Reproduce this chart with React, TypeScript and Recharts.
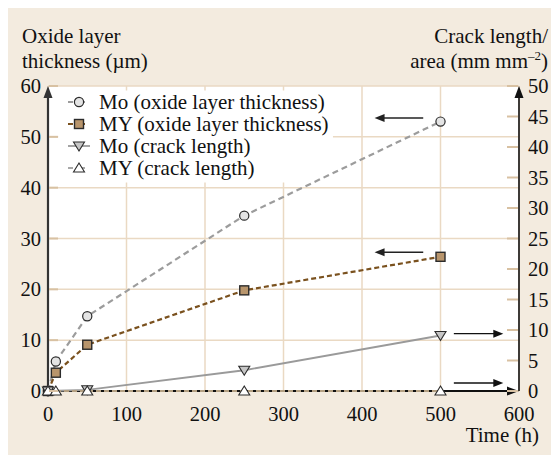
import {
  CartesianGrid,
  Legend,
  Line,
  LineChart,
  ReferenceArea,
  ReferenceLine,
  XAxis,
  YAxis,
} from "recharts";

// exposure time (h)
const times = [0, 10, 50, 250, 500];
// oxide layer thickness (µm), left axis
const moOxide = [0, 5.8, 14.7, 34.5, 53.0];
const myOxide = [0, 3.6, 9.1, 19.8, 26.4];
// crack length per area (mm mm^-2), right axis
const moCrack = [0, null, 0.2, 3.4, 9.1];
const myCrack = [0, 0, 0, 0, 0];

const timeTicks = [0, 100, 200, 300, 400, 500, 600];
const leftTicks = [0, 10, 20, 30, 40, 50, 60];
const rightTicks = [0, 5, 10, 15, 20, 25, 30, 35, 40, 45, 50];

// arrows telling which axis each curve belongs to
const leftArrows = [53.7, 27.3];
const rightArrows = [9.4, 1.3];

const rows = times.map((t, i) => ({
  time: t,
  moOxide: moOxide[i],
  myOxide: myOxide[i],
  moCrack: moCrack[i],
  myCrack: myCrack[i],
}));

const FONT = "Liberation Serif";
const GRID = "#ead9c3";
const TICK = "#d8c1a2";

type Marker = "circle" | "square" | "down" | "up";

const series: {
  key: string;
  name: string;
  axis: string;
  stroke: string;
  legendStroke: string;
  width: number;
  dash?: string;
  marker: Marker;
  fill: string;
}[] = [
  { key: "moOxide", name: "Mo (oxide layer thickness)", axis: "left", stroke: "#9c9c9c", legendStroke: "#9c9c9c", width: 2.2, dash: "6 4", marker: "circle", fill: "#e4e4e4" },
  { key: "myOxide", name: "MY (oxide layer thickness)", axis: "left", stroke: "#7a511e", legendStroke: "#7a511e", width: 2.2, dash: "5 3", marker: "square", fill: "#b8956c" },
  { key: "moCrack", name: "Mo (crack length)", axis: "right", stroke: "#9a9a9a", legendStroke: "#9a9a9a", width: 1.8, marker: "down", fill: "#c6c6c6" },
  { key: "myCrack", name: "MY (crack length)", axis: "right", stroke: "#b4a082", legendStroke: "#a8a8a8", width: 2, dash: "5 3", marker: "up", fill: "#ffffff" },
];

function drawMarker(kind: Marker, cx: number, cy: number, fill: string) {
  const stroke = "#2b2b2b";
  if (kind === "circle")
    return <circle cx={cx} cy={cy} r={4.6} fill={fill} stroke={stroke} strokeWidth={1.2} />;
  if (kind === "square")
    return <rect x={cx - 4.5} y={cy - 4.5} width={9} height={9} fill={fill} stroke={stroke} strokeWidth={1.4} />;
  if (kind === "down")
    return (
      <polygon
        points={`${cx - 5.5},${cy - 4} ${cx + 5.5},${cy - 4} ${cx},${cy + 5}`}
        fill={fill}
        stroke={stroke}
        strokeWidth={1.1}
      />
    );
  return (
    <polygon
      points={`${cx - 5.5},${cy + 4} ${cx + 5.5},${cy + 4} ${cx},${cy - 5}`}
      fill={fill}
      stroke={stroke}
      strokeWidth={1.1}
    />
  );
}

const dotFor = (kind: Marker, fill: string) => (p: any) => {
  if (p.cx == null || p.cy == null || p.value == null) return <g key={p.key} />;
  return <g key={p.key}>{drawMarker(kind, p.cx, p.cy, fill)}</g>;
};

// line with a filled arrow head at its second end point
const arrowShape = (len: number, half: number) => (p: any) => {
  const { x1, y1, x2, y2, stroke, strokeWidth } = p;
  const dx = x2 - x1;
  const dy = y2 - y1;
  const d = Math.hypot(dx, dy) || 1;
  const ux = dx / d;
  const uy = dy / d;
  const bx = x2 - ux * len;
  const by = y2 - uy * len;
  return (
    <g>
      <line x1={x1} y1={y1} x2={bx + ux} y2={by + uy} stroke={stroke} strokeWidth={strokeWidth} />
      <polygon
        points={`${x2},${y2} ${bx - uy * half},${by + ux * half} ${bx + uy * half},${by - ux * half}`}
        fill={stroke}
      />
    </g>
  );
};

const axisArrow = arrowShape(12, 4.5);
const noteArrow = arrowShape(10, 4);

const tickText = { fontFamily: FONT, fontSize: 20.5 };

function LeftTick({ x, y, payload }: any) {
  return (
    <g>
      <line x1={x + 1} x2={x + 10} y1={y} y2={y} stroke={TICK} strokeWidth={2} />
      <text x={x - 7} y={y + 7} textAnchor="end" style={tickText} fill="#111">
        {payload.value}
      </text>
    </g>
  );
}

function RightTick({ x, y, payload }: any) {
  return (
    <g>
      <line x1={x - 12} x2={x - 1} y1={y} y2={y} stroke={TICK} strokeWidth={2} />
      <text x={x + 9} y={y + 7} textAnchor="start" style={tickText} fill="#111">
        {payload.value}
      </text>
    </g>
  );
}

function TimeTick({ x, y, payload }: any) {
  return (
    <text x={x} y={y + 27.5} textAnchor="middle" style={tickText} fill="#111">
      {payload.value}
    </text>
  );
}

function LegendBox() {
  return (
    <div style={{ padding: "0 0 4px 4px", fontFamily: FONT, fontSize: 21, color: "#111" }}>
      {series.map((s) => (
        <div key={s.key} style={{ display: "flex", alignItems: "center", height: 22 }}>
          <svg width={34} height={22} style={{ flex: "none" }}>
            <line
              x1={6}
              x2={28}
              y1={11}
              y2={11}
              stroke={s.legendStroke}
              strokeWidth={s.width}
              strokeDasharray={s.dash ? "5 7" : undefined}
            />
            {drawMarker(s.marker, 17, 11, s.fill)}
          </svg>
          <span style={{ marginLeft: 3, whiteSpace: "nowrap", lineHeight: "22px", fontFamily: FONT }}>{s.name}</span>
        </div>
      ))}
    </div>
  );
}

const title = { position: "absolute" as const, fontFamily: FONT, fontSize: 21, lineHeight: "25px", color: "#111" };

export default function App() {
  return (
    <div style={{ position: "relative", width: 559, height: 463, margin: -8, fontFamily: FONT }}>
      <div style={{ position: "absolute", left: 5, top: 8, width: 549, height: 453, background: "#f3ebdf" }} />
      <div style={{ ...title, left: 22, top: 24 }}>
        Oxide layer
        <br />
        thickness (µm)
      </div>
      <div style={{ ...title, right: 11, top: 24, textAlign: "right", whiteSpace: "nowrap" }}>
        Crack length/
        <br />
        area (mm mm<sup style={{ fontSize: 13, lineHeight: 0 }}>–2</sup>)
      </div>
      <div style={{ ...title, right: 20, top: 423 }}>Time (h)</div>

      <LineChart
        width={559}
        height={463}
        data={rows}
        margin={{ top: 86, right: 0, bottom: 42, left: 8 }}
        style={{ position: "absolute", left: 0, top: 0, fontFamily: FONT }}
      >
        <CartesianGrid yAxisId="left" stroke={GRID} strokeWidth={1.5} fill="#fff" fillOpacity={1} />
        <XAxis
          dataKey="time"
          type="number"
          domain={[0, 600]}
          ticks={timeTicks}
          height={30}
          axisLine={false}
          tickLine={false}
          tickSize={0}
          tick={<TimeTick />}
        />
        <YAxis
          yAxisId="left"
          domain={[0, 60]}
          ticks={leftTicks}
          width={40}
          axisLine={false}
          tickLine={false}
          tickSize={0}
          tickMargin={0}
          tick={<LeftTick />}
        />
        <YAxis
          yAxisId="right"
          orientation="right"
          domain={[0, 50]}
          ticks={rightTicks}
          width={40}
          axisLine={false}
          tickLine={false}
          tickSize={0}
          tickMargin={0}
          tick={<RightTick />}
        />

        {/* white panel behind the legend, under the curves */}
        <ReferenceArea
          yAxisId="left"
          x1={13}
          x2={363}
          y1={41}
          y2={59.1}
          fill="#fff"
          fillOpacity={1}
          stroke="none"
          ifOverflow="visible"
        />

        {/* axis lines with arrow heads */}
        <ReferenceLine
          yAxisId="left"
          segment={[{ x: 0, y: 0 }, { x: 600, y: 0 }]}
          stroke="#111"
          strokeWidth={2}
          ifOverflow="visible"
          shape={axisArrow}
        />
        <ReferenceLine
          yAxisId="left"
          segment={[{ x: 0, y: 0 }, { x: 0, y: 60 }]}
          stroke="#333"
          strokeWidth={2.2}
          ifOverflow="visible"
          shape={axisArrow}
        />
        <ReferenceLine
          yAxisId="right"
          segment={[{ x: 600, y: 0 }, { x: 600, y: 50 }]}
          stroke="#111"
          strokeWidth={1.6}
          ifOverflow="visible"
          shape={axisArrow}
        />

        {series.map((s) => (
          <Line
            key={s.key}
            yAxisId={s.axis}
            dataKey={s.key}
            name={s.name}
            type="linear"
            stroke={s.stroke}
            strokeWidth={s.width}
            strokeDasharray={s.dash}
            dot={dotFor(s.marker, s.fill)}
            activeDot={false}
            connectNulls
            isAnimationActive={false}
          />
        ))}

        {leftArrows.map((v) => (
          <ReferenceLine
            key={`l${v}`}
            yAxisId="left"
            segment={[{ x: 478, y: v }, { x: 416, y: v }]}
            stroke="#222"
            strokeWidth={1.4}
            ifOverflow="visible"
            shape={noteArrow}
          />
        ))}
        {rightArrows.map((v) => (
          <ReferenceLine
            key={`r${v}`}
            yAxisId="right"
            segment={[{ x: 517, y: v }, { x: 580, y: v }]}
            stroke="#111"
            strokeWidth={1.4}
            ifOverflow="visible"
            shape={noteArrow}
          />
        ))}

        <Legend
          layout="vertical"
          align="center"
          verticalAlign="middle"
          content={<LegendBox />}
          wrapperStyle={{ left: 58, top: 91, width: 275, height: 92 }}
        />
      </LineChart>
    </div>
  );
}
